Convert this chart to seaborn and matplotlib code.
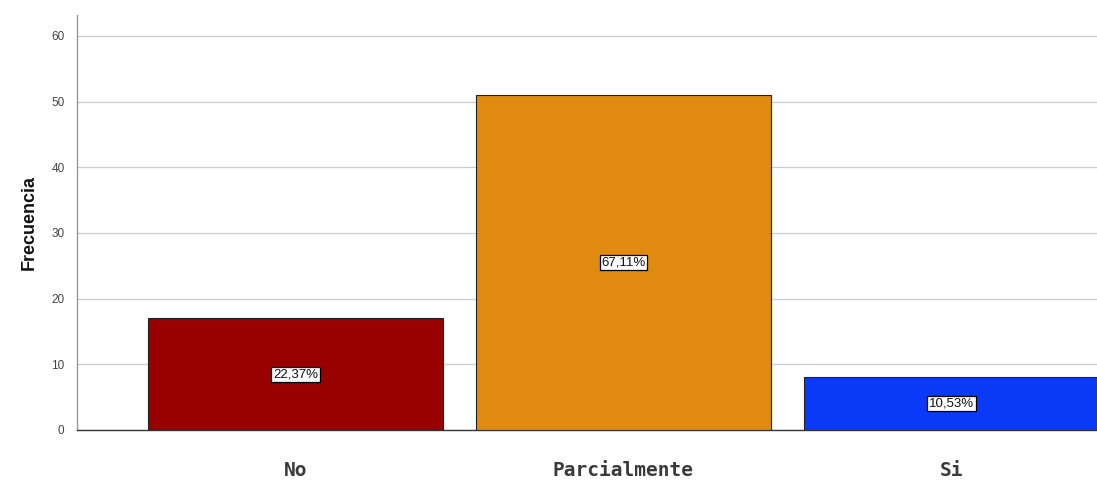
import matplotlib
matplotlib.use("Agg")
import matplotlib.pyplot as plt
import seaborn as sns
import pandas as pd

categorias = ["No", "Parcialmente", "Si"]
frecuencias = [17, 51, 8]
porcentajes = ["22,37%", "67,11%", "10,53%"]
colores = ["#990000", "#E08A12", "#0A3AF7"]
yticks = [0, 10, 20, 30, 40, 50, 60]

sns.set_theme(style="white")
plt.rcParams["font.family"] = ["Liberation Sans", "DejaVu Sans"]

df = pd.DataFrame({"categoria": categorias, "frecuencia": frecuencias})

fig = plt.figure(figsize=(10.97, 4.8), dpi=100)
ax = fig.add_axes([0.0702, 0.1042, 0.9298, 0.8646])

sns.barplot(data=df, x="categoria", y="frecuencia", hue="categoria",
            palette=colores, saturation=1, width=0.9, edgecolor="#222222",
            linewidth=0.8, legend=False, ax=ax, zorder=3)

# percentage labels in white boxes at mid-height of each bar
for i, (v, txt) in enumerate(zip(frecuencias, porcentajes)):
    ax.text(i, v / 2, txt, ha="center", va="center", fontsize=9.5,
            color="#111111", zorder=5,
            bbox=dict(boxstyle="square,pad=0.12", facecolor="white",
                      edgecolor="black", linewidth=0.9))

ax.set_xlim(-0.666, 2.444)
ax.set_ylim(0, 63.2)
ax.set_yticks(yticks)
ax.set_yticklabels([str(t) for t in yticks], fontsize=8.5, color="#444444")
ax.yaxis.grid(True, color="#cccccc", linewidth=0.9, zorder=0)
ax.tick_params(axis="y", length=0, pad=9)
ax.tick_params(axis="x", length=0, pad=22)
ax.set_xticks(range(len(categorias)))
ax.set_xticklabels(categorias, family="DejaVu Sans Mono", fontweight="bold",
                   fontsize=14, color="#3a3a3a")

ax.set_xlabel("")
ax.set_ylabel("Frecuencia", family=["Liberation Sans Narrow", "Liberation Sans"],
              fontweight="bold", fontsize=13, color="#111111", labelpad=10)

for side in ["top", "right"]:
    ax.spines[side].set_visible(False)
ax.spines["left"].set_color("#999999")
ax.spines["left"].set_linewidth(1.0)
ax.spines["bottom"].set_color("#333333")
ax.spines["bottom"].set_linewidth(1.0)

fig.savefig("out.png", dpi=100)
